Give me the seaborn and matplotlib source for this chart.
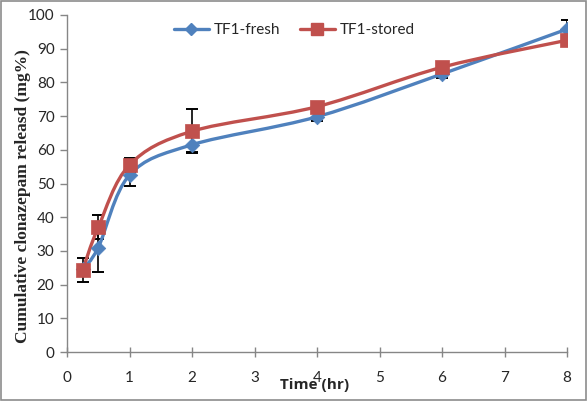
import numpy as np
import pandas as pd
import matplotlib
matplotlib.use("Agg")
import matplotlib.pyplot as plt
import seaborn as sns
from matplotlib.path import Path
from matplotlib.patches import PathPatch, Rectangle
from matplotlib.lines import Line2D

# ---- data ----
time_hr = [0.25, 0.5, 1, 2, 4, 6, 8]
fresh = [24.5, 31.0, 52.5, 61.5, 69.8, 82.5, 95.8]
fresh_err = [1.0, 7.3, 3.2, 2.2, 1.2, 1.2, 2.8]
stored = [24.3, 37.0, 55.5, 65.5, 72.8, 84.5, 92.5]
stored_err = [3.6, 3.6, 2.0, 6.5, 1.0, 1.0, 1.0]
series_names = ["TF1-fresh", "TF1-stored"]
x_ticks = [0, 1, 2, 3, 4, 5, 6, 7, 8]
y_ticks = [0, 10, 20, 30, 40, 50, 60, 70, 80, 90, 100]

BLUE = "#4F81BD"
RED = "#C0504D"

sns.set_style("white")
plt.rcParams["font.family"] = ["Lato", "DejaVu Sans"]

fig = plt.figure(figsize=(5.88, 4.01), dpi=100)
ax = fig.add_axes([67 / 588, 1 - 352 / 401, 500 / 588, 337 / 401])


def smooth_path(xs, ys):
    pts = np.column_stack([xs, ys]).astype(float)
    n = len(pts)
    verts = [pts[0]]
    codes = [Path.MOVETO]
    for i in range(n - 1):
        p0 = pts[i - 1] if i > 0 else pts[i]
        p1 = pts[i]
        p2 = pts[i + 1]
        p3 = pts[i + 2] if i + 2 < n else pts[i + 1]
        c1 = p1 + (p2 - p0) / 6.0
        c2 = p2 - (p3 - p1) / 6.0
        verts += [c1, c2, p2]
        codes += [Path.CURVE4] * 3
    return Path(verts, codes)


df = pd.DataFrame({
    "time": time_hr * 2,
    "value": fresh + stored,
    "err": fresh_err + stored_err,
    "series": [series_names[0]] * len(time_hr) + [series_names[1]] * len(time_hr),
})

colors = [BLUE, RED]
markers = ["D", "s"]
sizes = [55, 95]
for k, name in enumerate(series_names):
    sub = df[df["series"] == name]
    ax.errorbar(sub["time"], sub["value"], yerr=sub["err"], fmt="none",
                ecolor="black", elinewidth=1.2, capsize=4, capthick=1.4, zorder=2)
for k, name in enumerate(series_names):
    sub = df[df["series"] == name]
    ax.add_patch(PathPatch(smooth_path(sub["time"].values, sub["value"].values),
                           facecolor="none", edgecolor=colors[k], lw=2.4,
                           zorder=3, capstyle="round", joinstyle="round"))
for k, name in enumerate(series_names):
    sub = df[df["series"] == name]
    sns.scatterplot(data=sub, x="time", y="value", marker=markers[k], s=sizes[k],
                    color=colors[k], edgecolor=colors[k], linewidth=0.5,
                    ax=ax, zorder=4, legend=False)

ax.set_xlim(0, 8)
ax.set_ylim(0, 100)
ax.set_xticks(x_ticks)
ax.set_yticks(y_ticks)
ax.set_xticklabels([str(v) for v in x_ticks])
ax.set_yticklabels([str(v) for v in y_ticks])

for side in ["top", "right"]:
    ax.spines[side].set_visible(False)
for side in ["left", "bottom"]:
    ax.spines[side].set_color("#868686")
    ax.spines[side].set_linewidth(1.0)
ax.tick_params(axis="y", direction="out", length=5, width=1, color="#868686",
               labelsize=11, pad=4, left=True)
ax.tick_params(axis="x", direction="inout", length=7, width=1, color="#868686",
               labelsize=11, pad=10, bottom=True)

ax.set_xlabel("Time (hr)", fontsize=11, fontweight="bold", family=["Open Sans", "DejaVu Sans"])
ax.xaxis.set_label_coords((315 - 67) / 500, (352 - 378) / 337)
ax.set_ylabel("Cumulative clonazepam releasd (mg%)", fontsize=12.5, fontweight="bold",
              family=["Liberation Serif", "DejaVu Serif"])
ax.yaxis.set_label_coords((31 - 67) / 500, (352 - 196) / 337)

handles = [Line2D([], [], color=BLUE, lw=2.4, marker="D", markersize=6.5),
           Line2D([], [], color=RED, lw=2.4, marker="s", markersize=8)]
fig.legend(handles, series_names, loc="center", bbox_to_anchor=(0.50, 0.925),
           ncol=2, frameon=False, fontsize=11, handlelength=2.3,
           columnspacing=1.3, handletextpad=0.3)

fig.patches.append(Rectangle((0.002, 0.003), 0.995, 0.994, transform=fig.transFigure,
                             fill=False, edgecolor="#8c8c8c", lw=1.2))

fig.savefig("out.png", dpi=100)
